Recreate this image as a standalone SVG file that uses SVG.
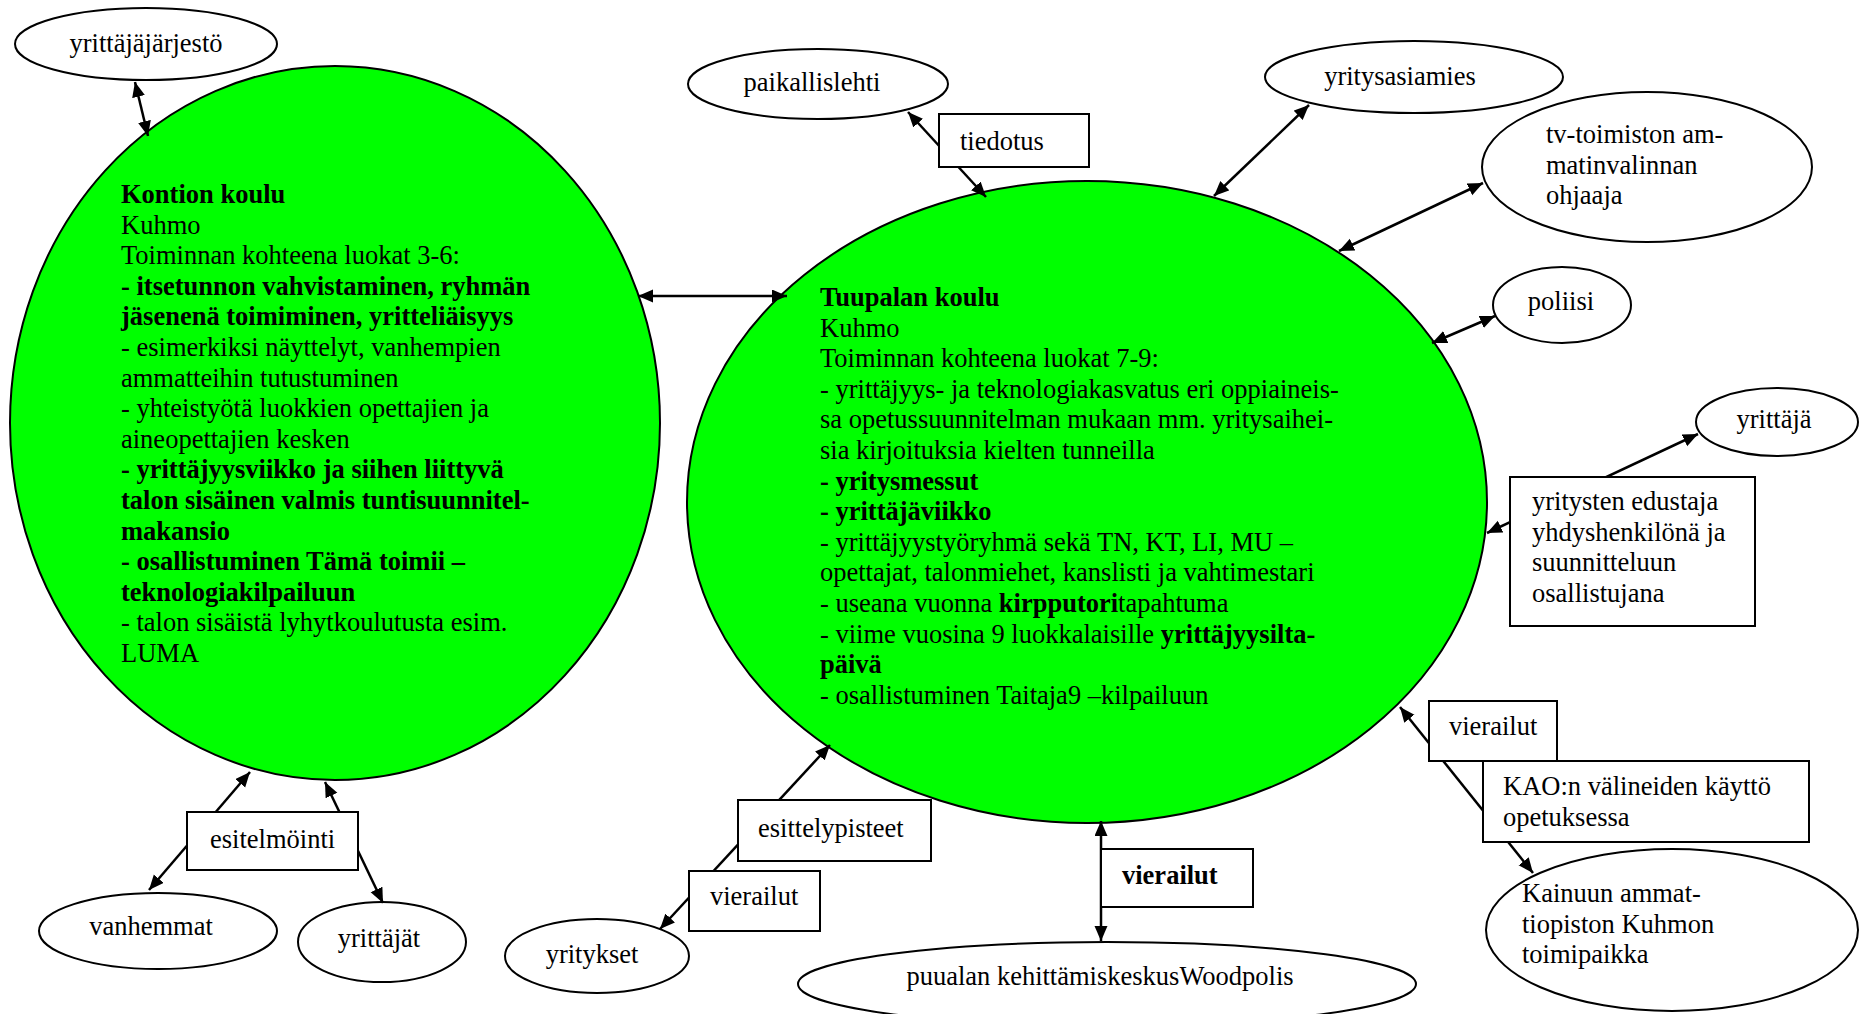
<svg xmlns="http://www.w3.org/2000/svg" width="1859" height="1014" viewBox="0 0 1859 1014">
<style>
.t{font-family:"Liberation Serif","Times New Roman",serif;font-size:26.5px;fill:#000}
.b{font-weight:bold}
.m{text-anchor:middle}
.el{fill:#fff;stroke:#000;stroke-width:2}
.gr{fill:#00ff00;stroke:#000;stroke-width:2}
.bx{fill:#fff;stroke:#000;stroke-width:2}
.c{stroke:#000;stroke-width:2.5;fill:none;marker-start:url(#ah);marker-end:url(#ah)}
</style>
<defs>
<marker id="ah" markerUnits="userSpaceOnUse" markerWidth="18" markerHeight="16" refX="15" refY="6.5" orient="auto-start-reverse">
<path d="M0,0 L15,6.5 L0,13 z" fill="#000"/>
</marker>
</defs>
<rect width="1859" height="1014" fill="#fff"/>

<g id="kontion-koulu">
<ellipse class="gr" cx="335" cy="423" rx="325" ry="357"/>
<text class="t" x="121" y="203">
<tspan x="121" y="203" class="b">Kontion koulu</tspan>
<tspan x="121" y="233.6">Kuhmo</tspan>
<tspan x="121" y="264.2">Toiminnan kohteena luokat 3-6:</tspan>
<tspan x="121" y="294.8" class="b">- itsetunnon vahvistaminen, ryhmän</tspan>
<tspan x="121" y="325.4" class="b">jäsenenä toimiminen, yritteliäisyys</tspan>
<tspan x="121" y="356">- esimerkiksi näyttelyt, vanhempien</tspan>
<tspan x="121" y="386.6">ammatteihin tutustuminen</tspan>
<tspan x="121" y="417.2">- yhteistyötä luokkien opettajien ja</tspan>
<tspan x="121" y="447.8">aineopettajien kesken</tspan>
<tspan x="121" y="478.4" class="b">- yrittäjyysviikko ja siihen liittyvä</tspan>
<tspan x="121" y="509" class="b">talon sisäinen valmis tuntisuunnitel-</tspan>
<tspan x="121" y="539.6" class="b">makansio</tspan>
<tspan x="121" y="570.2" class="b">- osallistuminen Tämä toimii –</tspan>
<tspan x="121" y="600.8" class="b">teknologiakilpailuun</tspan>
<tspan x="121" y="631.4">- talon sisäistä lyhytkoulutusta esim.</tspan>
<tspan x="121" y="662">LUMA</tspan>
</text>
</g>

<g id="tuupalan-koulu">
<ellipse class="gr" cx="1087" cy="502" rx="400" ry="321"/>
<text class="t" x="820" y="306">
<tspan x="820" y="306" class="b">Tuupalan koulu</tspan>
<tspan x="820" y="336.6">Kuhmo</tspan>
<tspan x="820" y="367.2">Toiminnan kohteena luokat 7-9:</tspan>
<tspan x="820" y="397.8">- yrittäjyys- ja teknologiakasvatus eri oppiaineis-</tspan>
<tspan x="820" y="428.4">sa opetussuunnitelman mukaan mm. yritysaihei-</tspan>
<tspan x="820" y="459">sia kirjoituksia kielten tunneilla</tspan>
<tspan x="820" y="489.6" class="b">- yritysmessut</tspan>
<tspan x="820" y="520.2" class="b">- yrittäjäviikko</tspan>
<tspan x="820" y="550.8">- yrittäjyystyöryhmä sekä TN, KT, LI, MU –</tspan>
<tspan x="820" y="581.4">opettajat, talonmiehet, kanslisti ja vahtimestari</tspan>
<tspan x="820" y="612">- useana vuonna <tspan class="b">kirpputori</tspan>tapahtuma</tspan>
<tspan x="820" y="642.6">- viime vuosina 9 luokkalaisille <tspan class="b">yrittäjyysilta-</tspan></tspan>
<tspan x="820" y="673.2" class="b">päivä</tspan>
<tspan x="820" y="703.8">- osallistuminen Taitaja9 –kilpailuun</tspan>
</text>
</g>

<g id="yrittajajarjesto">
<ellipse class="el" cx="146" cy="44" rx="131" ry="36"/>
<text class="t m" x="146" y="52">yrittäjäjärjestö</text>
</g>
<g id="paikallislehti">
<ellipse class="el" cx="818" cy="84" rx="130" ry="35"/>
<text class="t m" x="812" y="91">paikallislehti</text>
</g>
<g id="yritysasiamies">
<ellipse class="el" cx="1414" cy="77" rx="149" ry="36"/>
<text class="t m" x="1400" y="85">yritysasiamies</text>
</g>
<g id="tv-toimisto">
<ellipse class="el" cx="1647" cy="167" rx="165" ry="75"/>
<text class="t" x="1546" y="143">
<tspan x="1546" y="143">tv-toimiston am-</tspan>
<tspan x="1546" y="173.6">matinvalinnan</tspan>
<tspan x="1546" y="204.2">ohjaaja</tspan>
</text>
</g>
<g id="poliisi">
<ellipse class="el" cx="1562" cy="305" rx="69" ry="38"/>
<text class="t m" x="1561" y="310">poliisi</text>
</g>
<g id="yrittaja">
<ellipse class="el" cx="1777" cy="422" rx="81" ry="34"/>
<text class="t m" x="1774" y="428">yrittäjä</text>
</g>
<g id="kainuun-ammattiopisto">
<ellipse class="el" cx="1672" cy="930" rx="186" ry="81"/>
<text class="t" x="1522" y="902">
<tspan x="1522" y="902">Kainuun ammat-</tspan>
<tspan x="1522" y="932.6">tiopiston Kuhmon</tspan>
<tspan x="1522" y="963.2">toimipaikka</tspan>
</text>
</g>
<g id="woodpolis">
<ellipse class="el" cx="1107" cy="984" rx="309" ry="42"/>
<text class="t m" x="1100" y="985">puualan kehittämiskeskusWoodpolis</text>
</g>
<g id="yritykset">
<ellipse class="el" cx="597" cy="956" rx="92" ry="37"/>
<text class="t m" x="592" y="963">yritykset</text>
</g>
<g id="vanhemmat">
<ellipse class="el" cx="158" cy="931" rx="119" ry="38"/>
<text class="t m" x="151" y="935">vanhemmat</text>
</g>
<g id="yrittajat">
<ellipse class="el" cx="382" cy="942" rx="84" ry="40"/>
<text class="t m" x="379" y="947">yrittäjät</text>
</g>

<g id="connectors">
<line class="c" x1="135" y1="82" x2="148" y2="136"/>
<line class="c" x1="638" y1="296" x2="787" y2="296"/>
<line class="c" x1="908" y1="112" x2="986" y2="197"/>
<line class="c" x1="1309" y1="105" x2="1214" y2="196"/>
<line class="c" x1="1483" y1="183" x2="1339" y2="251"/>
<line class="c" x1="1495" y1="316" x2="1432" y2="343"/>
<line class="c" x1="1698" y1="434" x2="1487" y2="533"/>
<line class="c" x1="1400" y1="707" x2="1533" y2="873"/>
<line class="c" x1="1101" y1="821" x2="1101" y2="941"/>
<line class="c" x1="830" y1="745" x2="660" y2="929"/>
<line class="c" x1="250" y1="772" x2="149" y2="890"/>
<line class="c" x1="325" y1="782" x2="383" y2="903"/>
</g>

<g id="tiedotus">
<rect class="bx" x="939" y="114" width="150" height="53"/>
<text class="t" x="960" y="150">tiedotus</text>
</g>
<g id="yritysten-edustaja">
<rect class="bx" x="1510" y="477" width="245" height="149"/>
<text class="t" x="1532" y="510">
<tspan x="1532" y="510">yritysten edustaja</tspan>
<tspan x="1532" y="540.6">yhdyshenkilönä ja</tspan>
<tspan x="1532" y="571.2">suunnitteluun</tspan>
<tspan x="1532" y="601.8">osallistujana</tspan>
</text>
</g>
<g id="vierailut-kao">
<rect class="bx" x="1429" y="701" width="128" height="60"/>
<text class="t" x="1449" y="735">vierailut</text>
</g>
<g id="kao-valineet">
<rect class="bx" x="1483" y="761" width="326" height="81"/>
<text class="t" x="1503" y="795">
<tspan x="1503" y="795">KAO:n välineiden käyttö</tspan>
<tspan x="1503" y="825.6">opetuksessa</tspan>
</text>
</g>
<g id="vierailut-woodpolis">
<rect class="bx" x="1101" y="849" width="152" height="58"/>
<text class="t b" x="1122" y="884">vierailut</text>
</g>
<g id="esittelypisteet">
<rect class="bx" x="738" y="800" width="193" height="61"/>
<text class="t" x="758" y="837">esittelypisteet</text>
</g>
<g id="vierailut-yritykset">
<rect class="bx" x="689" y="871" width="131" height="60"/>
<text class="t" x="710" y="905">vierailut</text>
</g>
<g id="esitelmointi">
<rect class="bx" x="187" y="812" width="171" height="58"/>
<text class="t" x="210" y="848">esitelmöinti</text>
</g>
</svg>
